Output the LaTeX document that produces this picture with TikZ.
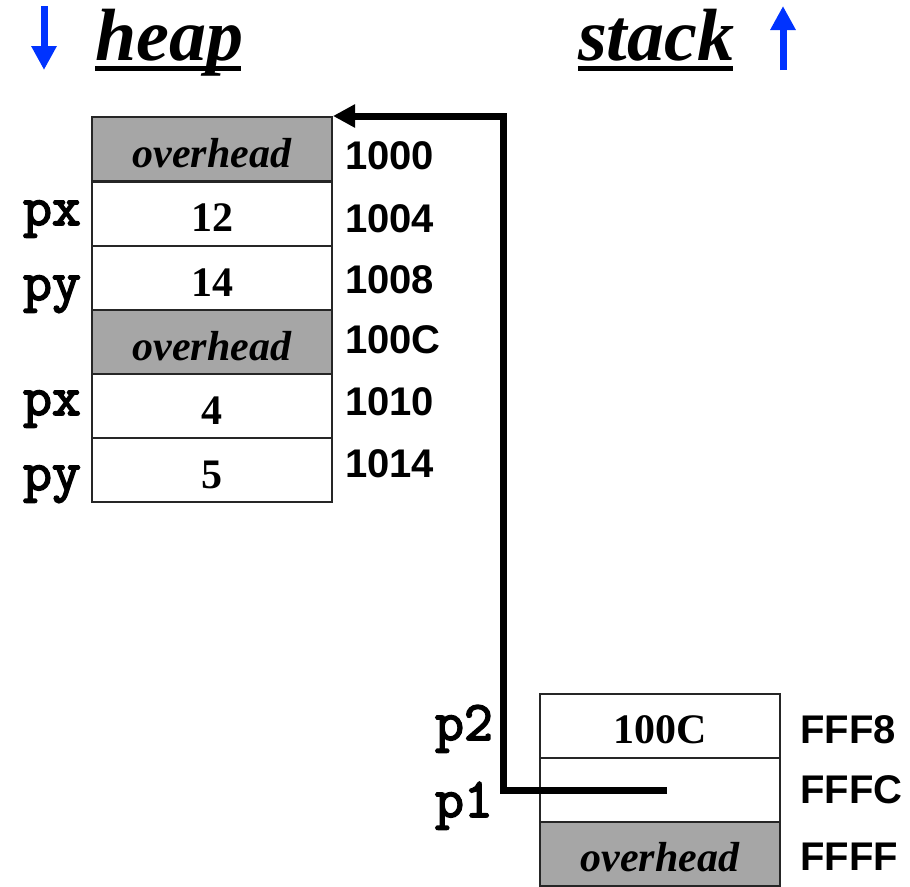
\documentclass[tikz,border=0pt]{standalone}
\usepackage{fontspec}
\setmainfont{Liberation Serif}
\setsansfont{Liberation Sans}
\newfontfamily\varfont{Latin Modern Mono}[FakeBold=3]
\usepackage{xcolor}
\usepackage{tikz}
\usetikzlibrary{arrows.meta}
\usetikzlibrary{positioning}

\definecolor{memgrey}{RGB}{166,166,166}
\definecolor{dirblue}{RGB}{0,51,255}

\tikzset{
  cell/.style={draw=black!85, line width=2pt, minimum width=240pt, minimum height=64pt,
    inner sep=0pt, text height=38pt, text depth=2pt,
    font=\fontsize{42}{48}\selectfont\bfseries},
  shaded/.style={cell, fill=memgrey, font=\fontsize{42}{48}\selectfont\bfseries\itshape},
  addr/.style={anchor=base west, inner sep=0pt, font=\fontsize{40}{46}\selectfont\sffamily\bfseries},
  var/.style={anchor=base east, inner sep=0pt, font=\fontsize{56}{62}\selectfont\varfont},
  title/.style={anchor=base west, inner sep=0pt, font=\fontsize{74}{80}\selectfont\bfseries\itshape},
  dir/.style={dirblue, line width=7pt, -{Triangle[length=24pt,width=24pt]}}
}

\begin{document}
\begin{tikzpicture}[x=1pt,y=-1pt]
    \useasboundingbox (0,0) rectangle (910,886);

    % titles
    \node[title] (heap) at (95,60) {heap};
    \node[title] (stack) at (578,60) {stack};
    \draw[line width=5pt] ([yshift=-8.5pt]heap.base west) -- ([yshift=-8.5pt,xshift=-2pt]heap.base east);
    \draw[line width=5pt] ([yshift=-8.5pt]stack.base west) -- ([yshift=-8.5pt,xshift=-2pt]stack.base east);
    \coordinate (downtop) at (44,6);
    \coordinate (downbot) at (44,70);
    \coordinate (uptop) at (783,6);
    \coordinate (upbot) at (783,70);
    \draw[dir] (downtop) -- (downbot);
    \draw[dir] (upbot) -- (uptop);

    % heap
    \node[shaded] (h0) at (212,149) {overhead};
    \node[cell] (h1) at (212,213.5) {12};
    \node[cell] (h2) at (212,278) {14};
    \node[shaded] (h3) at (212,342) {overhead};
    \node[cell] (h4) at (212,406) {4};
    \node[cell] (h5) at (212,470) {5};

    \node[addr] (a0) at (345,169) {1000};
    \node[addr] (a1) at (345,232) {1004};
    \node[addr] (a2) at (345,293) {1008};
    \node[addr] (a3) at (345,353) {100C};
    \node[addr] (a4) at (345,415) {1010};
    \node[addr] (a5) at (345,477) {1014};

    \node[var] (px1) at (81,225) {px};
    \node[var] (py1) at (81,300) {py};
    \node[var] (px2) at (81,415) {px};
    \node[var] (py2) at (81,490) {py};

    % stack
    \node[cell] (s0) at (660,725.5) {100C};
    \node[cell] (s1) at (660,790) {};
    \node[shaded] (s2) at (660,853.5) {overhead};

    \node[addr] (b0) at (800,743) {FFF8};
    \node[addr] (b1) at (800,803) {FFFC};
    \node[addr] (b2) at (800,870) {FFFF};

    \node[var] (p2) at (493,740) {p2};
    \node[var] (p1) at (493,817) {p1};

    % pointer
    \coordinate (p1val) at (667,790);
    \coordinate (bend) at (503,0);
    \draw[line width=7pt, line join=miter, -{Triangle[length=22pt,width=22pt]}]
      (p1val) -- (bend |- p1val) -- (bend |- h0.north east) -- (h0.north east);
\end{tikzpicture}
\end{document}
